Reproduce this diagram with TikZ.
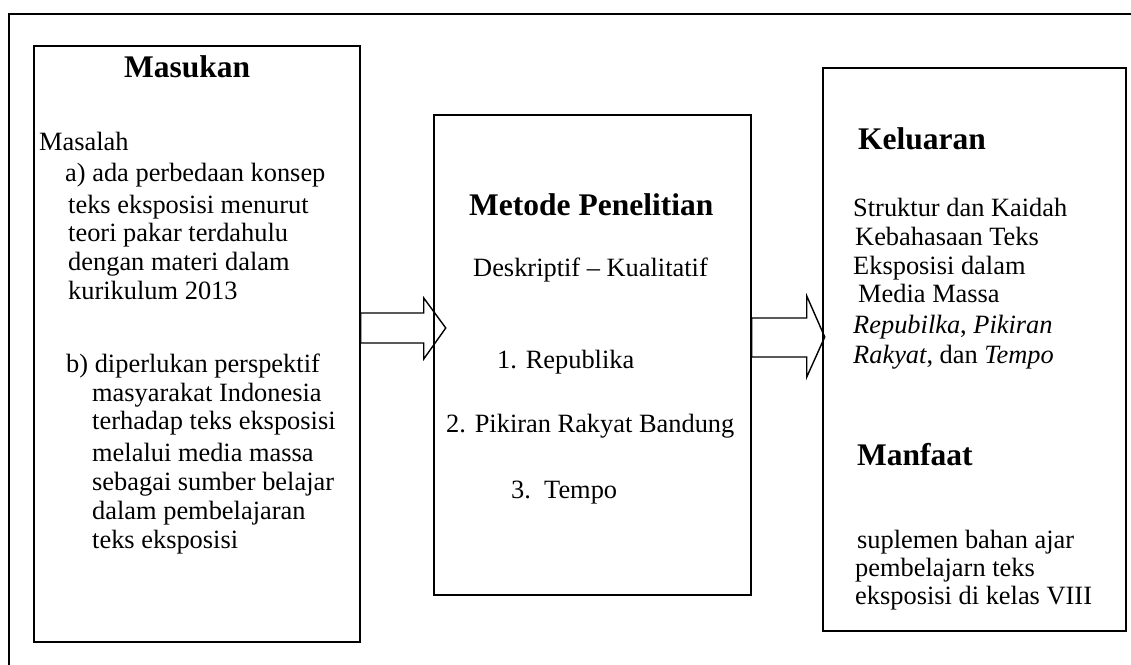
\documentclass[tikz,border=0pt]{standalone}
\usepackage{fontspec}
\setmainfont{Liberation Serif}
\begin{document}
\begin{tikzpicture}[x=1pt,y=-1pt,
  frame/.style={draw=black,line width=1.4pt},
  box/.style={draw=black,line width=1.5pt,rectangle,inner sep=0pt},
  blockarrow/.style={draw=black,line width=1.4pt,line join=miter},
  txt/.style={anchor=base west,inner sep=0pt,font=\fontsize{26.4}{29}\selectfont},
  hd/.style={anchor=base west,inner sep=0pt,font=\fontsize{31.5}{34}\selectfont\bfseries}]
\useasboundingbox (0,0) rectangle (1131,664);
\fill[white] (0,0) rectangle (1131,664);
% outer frame (cut off at right and bottom)
\draw[frame] (9,670) -- (9,14) -- (1140,14);
% boxes
\node[box,minimum width=326pt,minimum height=596pt] (masukan) at (197,344) {};
\node[box,minimum width=317pt,minimum height=480pt] (metode) at (592.5,355) {};
\node[box,minimum width=303pt,minimum height=563pt] (keluaran) at (974.5,349.5) {};
% block arrows
\coordinate (a1tail) at (masukan.north east |- 0,328);
\coordinate (a2tail) at (metode.north east |- 0,337);
\draw[blockarrow] (a1tail) ++(0,-15) -- ++(63,0) -- ++(0,-15) -- ++(22,30) -- ++(-22,31) -- ++(0,-16) -- ++(-63,0) -- cycle;
\draw[blockarrow] (a2tail) ++(0,-19) -- ++(55,0) -- ++(0,-22) -- ++(18,41) -- ++(-18,40) -- ++(0,-20) -- ++(-55,0) -- cycle;
% Masukan texts
\node[hd] (h1) at (124,77) {Masukan};
\node[txt] (m0) at (39,150) {Masalah};
\node[txt] (m1) at (65,181) {a) ada perbedaan konsep};
\node[txt] (m2) at (68,213) {teks eksposisi menurut};
\node[txt] (m3) at (68,241) {teori pakar terdahulu};
\node[txt] (m4) at (68,270) {dengan materi dalam};
\node[txt] (m5) at (68,299) {kurikulum 2013};
\node[txt] (m6) at (66,372) {b) diperlukan perspektif};
\node[txt] (m7) at (92,401) {masyarakat Indonesia};
\node[txt] (m8) at (92,429) {terhadap teks eksposisi};
\node[txt] (m9) at (92,461) {melalui media massa};
\node[txt] (m10) at (92,490) {sebagai sumber belajar};
\node[txt] (m11) at (92,519) {dalam pembelajaran};
\node[txt] (m12) at (92,548) {teks eksposisi};
% Metode texts
\node[hd] (h2) at (469,215) {Metode Penelitian};
\node[txt] (d0) at (473,276) {Deskriptif -- Kualitatif};
\node[txt] (d1) at (497,368) {1. Republika};
\node[txt] (d2) at (446,432) {2. Pikiran Rakyat Bandung};
\node[txt] (d3) at (511,498) {3.\ \ Tempo};
% Keluaran texts
\node[hd] (h3) at (858,149) {Keluaran};
\node[txt] (k1) at (853,216) {Struktur dan Kaidah};
\node[txt] (k2) at (855,245) {Kebahasaan Teks};
\node[txt] (k3) at (853,274) {Eksposisi dalam};
\node[txt] (k4) at (858,302) {Media Massa};
\node[txt] (k5) at (853,333) {\itshape Repubilka\upshape, \itshape Pikiran};
\node[txt] (k6) at (853,363) {\itshape Rakyat\upshape, dan \itshape Tempo};
\node[hd] (h4) at (857,465) {Manfaat};
\node[txt] (f1) at (857,548) {suplemen bahan ajar};
\node[txt] (f2) at (855,576) {pembelajarn teks};
\node[txt] (f3) at (855,604) {eksposisi di kelas VIII};
\end{tikzpicture}
\end{document}
